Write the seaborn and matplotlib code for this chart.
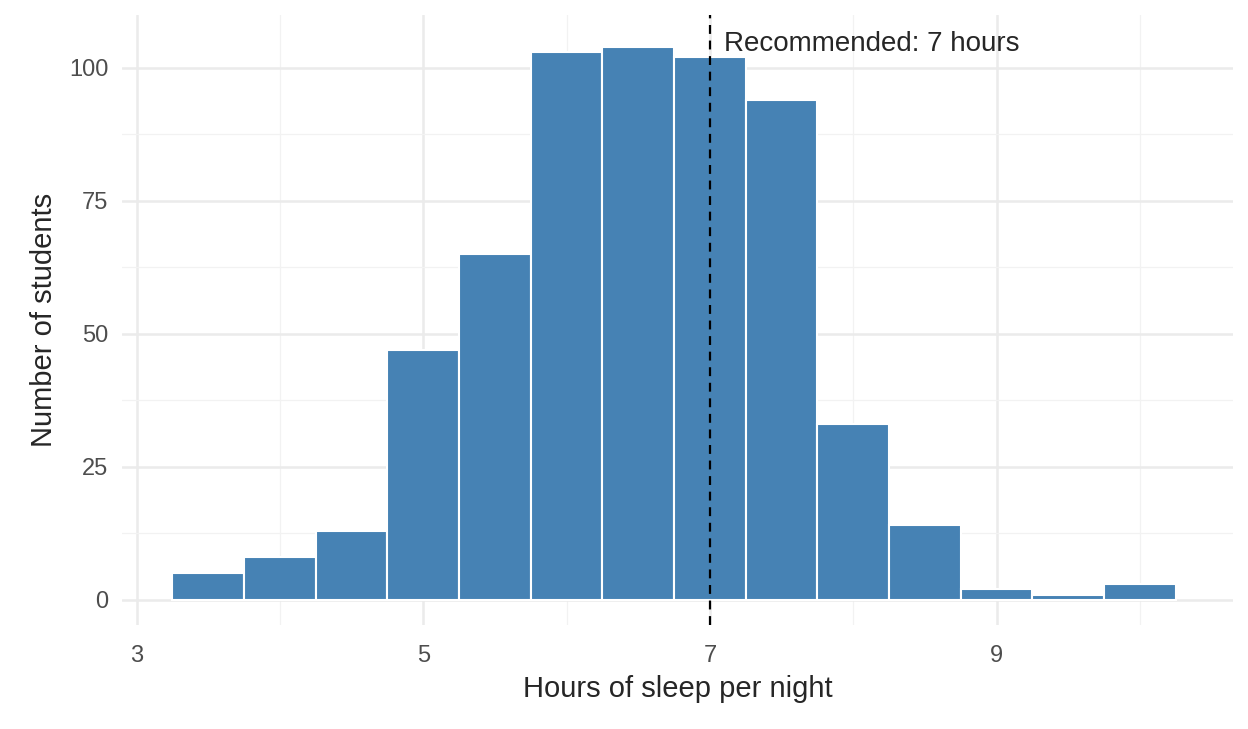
import numpy as np
import matplotlib
matplotlib.use("Agg")
import matplotlib.pyplot as plt
import seaborn as sns

# bin centres (0.5 h wide) and counts
bin_centers = [3.5, 4.0, 4.5, 5.0, 5.5, 6.0, 6.5, 7.0, 7.5, 8.0, 8.5, 9.0, 9.5, 10.0]
counts = [5, 8, 13, 47, 65, 103, 104, 102, 94, 33, 14, 2, 1, 3]
bin_edges = [c - 0.25 for c in bin_centers] + [bin_centers[-1] + 0.25]
recommended = 7

sns.set_theme(style="white")
plt.rcParams["font.family"] = ["Liberation Sans", "DejaVu Sans"]

fig, ax = plt.subplots(figsize=(12.48, 7.29), dpi=100)
sns.histplot(x=bin_centers, weights=counts, bins=bin_edges, ax=ax,
             color="#4682B4", alpha=1, edgecolor="white", linewidth=1.5, zorder=2)
ax.axvline(recommended, color="black", linestyle=(0, (4, 3)), linewidth=1.6, zorder=3)
ax.text(recommended + 0.1, 107, "Recommended: 7 hours", fontsize=20, va="top", ha="left")

ax.set_xlim(2.9, 10.65)
ax.set_ylim(-4.8, 110)
ax.set_xticks([3, 5, 7, 9])
ax.set_xticks([4, 6, 8, 10], minor=True)
ax.set_yticks([0, 25, 50, 75, 100])
ax.set_yticks([12.5, 37.5, 62.5, 87.5], minor=True)
ax.grid(which="major", color="#EBEBEB", linewidth=1.8, zorder=0)
ax.grid(which="minor", color="#F2F2F2", linewidth=0.9, zorder=0)
ax.set_axisbelow(True)
for s in ax.spines.values():
    s.set_visible(False)
ax.tick_params(axis="both", which="both", length=0, labelsize=17, labelcolor="#4D4D4D")
ax.tick_params(axis="x", pad=14)
ax.tick_params(axis="y", pad=10)
ax.set_xlabel("Hours of sleep per night", fontsize=21, labelpad=6)
ax.set_ylabel("Number of students", fontsize=21, labelpad=8)

fig.subplots_adjust(left=0.098, right=0.988, top=0.98, bottom=0.142)
fig.savefig("out.png", dpi=100)
